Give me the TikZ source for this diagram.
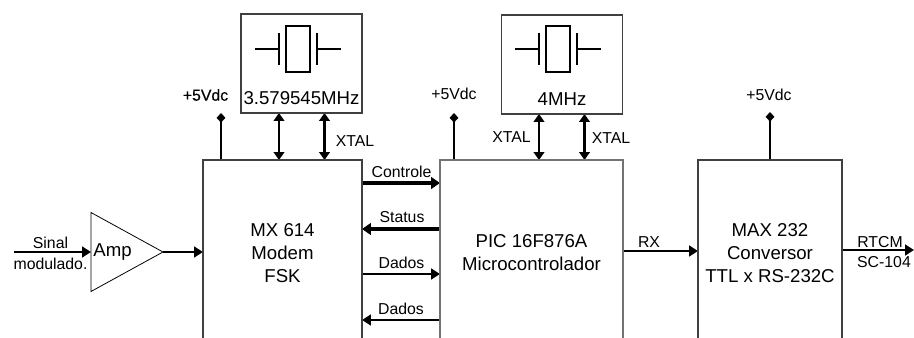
\documentclass[tikz,border=0pt]{standalone}
\usepackage{fontspec}
\setmainfont{Liberation Sans}
\newfontfamily\heavyfont[FakeBold=0.4]{Liberation Sans}
\usetikzlibrary{arrows.meta}
\usetikzlibrary{shapes.geometric}
\pgfdeclarelayer{background}
\pgfsetlayers{background,main}

\begin{document}
\begin{tikzpicture}[
	x=0.02cm, y=-0.02cm,
	blockbox/.style={rectangle, draw=black!75, line width=0.7pt, outer sep=0pt, align=center, font=\fontsize{10.6}{13}\selectfont},
	xtalbox/.style={rectangle, draw=black!75, line width=0.7pt, outer sep=0pt, minimum width=2.42cm, minimum height=1.98cm},
	ampnode/.style={isosceles triangle, isosceles triangle stretches, draw=black, line width=0.45pt, outer sep=0pt, inner sep=0pt, minimum width=1.58cm, minimum height=1.44cm, anchor=lower side},
	biglabel/.style={inner sep=0pt, font=\fontsize{10.6}{13}\selectfont},
	smalllabel/.style={inner sep=0pt, font=\fontsize{9}{11}\selectfont},
	powerline/.style={line width=1.5pt, {Diamond[length=5.5pt,width=5pt]}-},
	xtalline/.style={line width=1.5pt, {Triangle[length=4.5pt,width=6pt]}-{Triangle[length=4.5pt,width=6pt]}},
	heavybus/.style={line width=2.1pt, -{Triangle[length=5pt,width=6.5pt]}},
	lightbus/.style={line width=1.4pt, -{Triangle[length=5pt,width=6pt]}},
	]
	\useasboundingbox (0,0) rectangle (914,338);
	%Nodes
	\node[blockbox, minimum width=3.18cm, minimum height=3.72cm] (mx) at (282.5,253) {MX 614\\Modem\\FSK};
	\node[blockbox, minimum width=3.66cm, minimum height=3.72cm, draw=black!55, line width=1pt] (pic) at (531.5,253) {PIC 16F876A\\Microcontrolador};
	\node[blockbox, minimum width=2.88cm, minimum height=3.72cm] (max) at (770,253) {MAX 232\\Conversor\\TTL x RS-232C};
	\node[ampnode] (amp) at (91,252) {};
	\node[xtalbox] (xt1) at (301.5,63.5) {};
	\node[xtalbox] (xt2) at (562,64.5) {};

	\node[biglabel] (amplabel) at (112.5,252.5) {Amp};
	\node[biglabel] (f1) at (301.5,98) {3.579545MHz};
	\node[biglabel] (f2) at (562,99) {4MHz};
	\node[smalllabel] (sinal) at (50.5,243) {Sinal};
	\node[smalllabel] (modulado) at (50.5,264) {modulado.};
	\node[smalllabel, font=\fontsize{9}{11}\heavyfont] (v1) at (205.5,95) {+5Vdc};
	\node[smalllabel] (v2) at (454,94) {+5Vdc};
	\node[smalllabel] (v3) at (769,95) {+5Vdc};
	\node[smalllabel] (x1) at (355,141) {XTAL};
	\node[smalllabel] (x2) at (511.5,137) {XTAL};
	\node[smalllabel] (x3) at (611,138) {XTAL};
	\node[smalllabel] (controle) at (401.5,172) {Controle};
	\node[smalllabel] (status) at (402,217) {Status};
	\node[smalllabel] (dados1) at (401.5,263) {Dados};
	\node[smalllabel] (dados2) at (401,309) {Dados};
	\node[smalllabel] (rx) at (649,242) {RX};
	\node[smalllabel] (rtcm) at (880,242) {RTCM};
	\node[smalllabel] (sc) at (884,262) {SC-104};

	\coordinate (in) at (14,252);
	\coordinate (out) at (914,250);
	\coordinate (d1) at (221,113);
	\coordinate (d2) at (454,113);
	\coordinate (d3) at (770,112);
	\coordinate (a1) at (279,0);
	\coordinate (a2) at (324.5,0);
	\coordinate (a3) at (539,0);
	\coordinate (a4) at (584.5,0);
	\coordinate (b1) at (0,183);
	\coordinate (b2) at (0,229);
	\coordinate (b3) at (0,274);
	\coordinate (b4) at (0,320);
	\coordinate (b5) at (0,251);

	%Crystals
	\foreach \cx in {298,558}{
		\draw[line width=0.9pt] (\cx-12,26) rectangle (\cx+12,72);
		\draw[line width=0.9pt] (\cx-43,49) -- (\cx-19,49);
		\draw[line width=0.9pt] (\cx-19,33) -- (\cx-19,65);
		\draw[line width=0.9pt] (\cx+19,33) -- (\cx+19,65);
		\draw[line width=0.9pt] (\cx+19,49) -- (\cx+43,49);
	}

	\begin{pgfonlayer}{background}
	%Lines
	\draw[lightbus] (in) -- (amp.lower side);
	\draw[lightbus] (amp.apex) -- (mx.west |- amp.apex);
	\draw[lightbus] (pic.east |- b5) -- (max.west |- b5);
	\draw[lightbus] (max.east |- out) -- (out);

	\draw[powerline] (d1) -- (d1 |- mx.north);
	\draw[powerline] (d2) -- (d2 |- pic.north);
	\draw[powerline] (d3) -- (d3 |- max.north);

	\draw[xtalline] (a1 |- xt1.south) -- (a1 |- mx.north);
	\draw[xtalline] (a2 |- xt1.south) -- (a2 |- mx.north);
	\draw[xtalline] (a3 |- xt2.south) -- (a3 |- pic.north);
	\draw[xtalline] (a4 |- xt2.south) -- (a4 |- pic.north);

	\draw[heavybus] (mx.east |- b1) -- (pic.west |- b1);
	\draw[heavybus] (pic.west |- b2) -- (mx.east |- b2);
	\draw[lightbus] (mx.east |- b3) -- (pic.west |- b3);
	\draw[lightbus] (pic.west |- b4) -- (mx.east |- b4);
	\end{pgfonlayer}
\end{tikzpicture}
\end{document}
